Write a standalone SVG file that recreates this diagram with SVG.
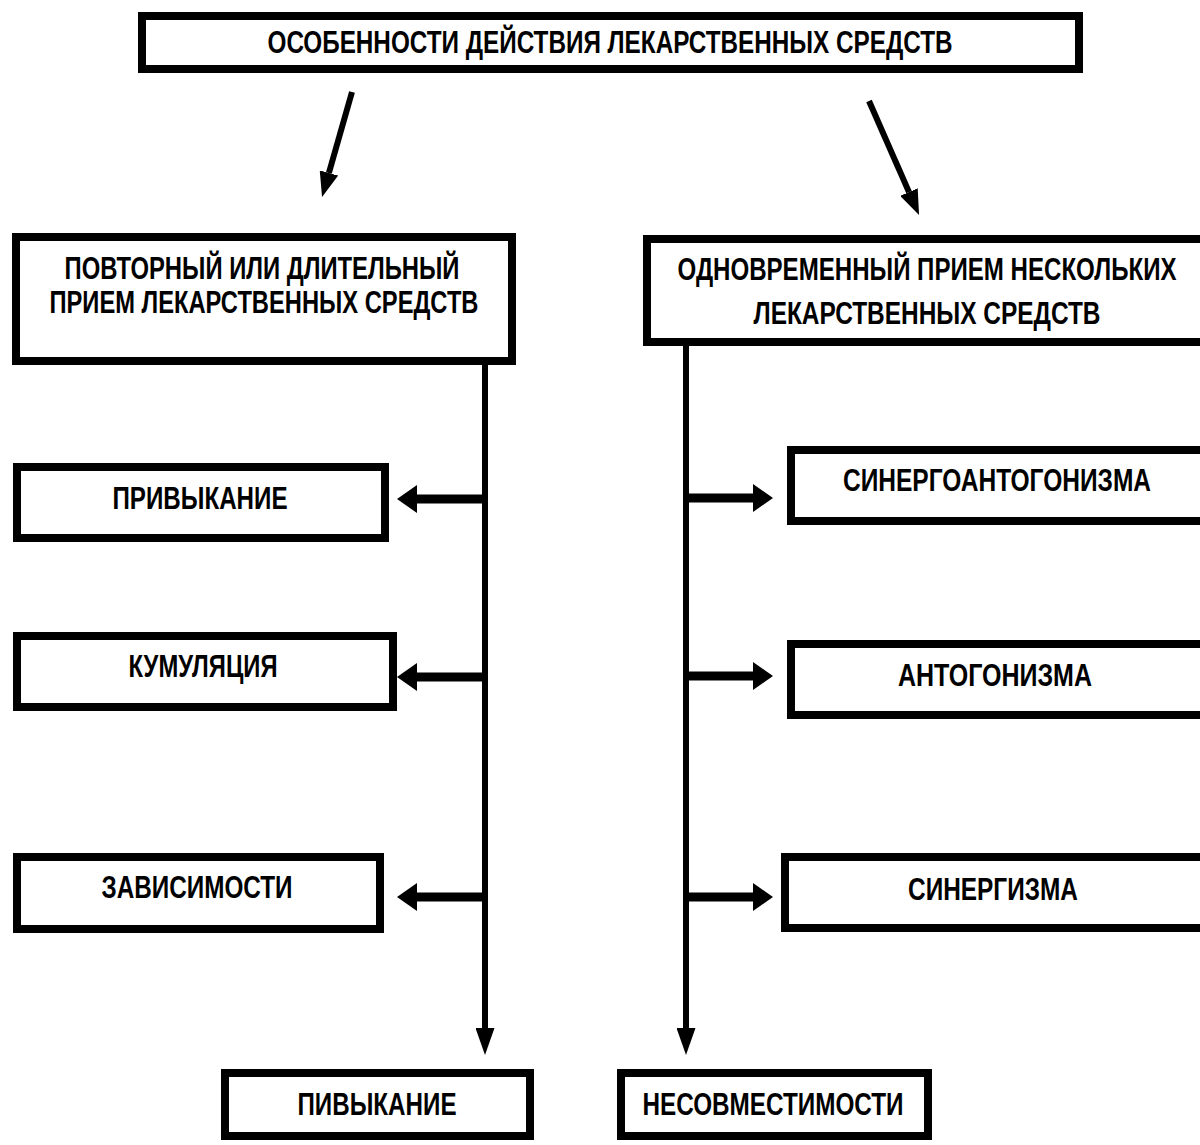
<svg xmlns="http://www.w3.org/2000/svg" width="1200" height="1145" viewBox="0 0 1200 1145">
<style>
.box{fill:#fff;stroke:#000;stroke-width:8}
.t{font-family:"Liberation Sans Narrow","Liberation Sans","Arial Narrow",sans-serif;font-weight:bold;font-size:31px;fill:#000;text-anchor:middle}
.ln{stroke:#000;fill:none}
.h{stroke-width:9}
.v{stroke-width:6}
</style>
<defs>
<marker id="ah" markerUnits="userSpaceOnUse" viewBox="0 0 20 28" markerWidth="20" markerHeight="28" refX="0" refY="14" orient="auto"><path d="M0,0 L20,14 L0,28 z" fill="#000"/></marker>
<marker id="av" markerUnits="userSpaceOnUse" viewBox="0 0 27 19" markerWidth="27" markerHeight="19" refX="0" refY="9.5" orient="auto"><path d="M0,0 L27,9.5 L0,19 z" fill="#000"/></marker>
<marker id="ad" markerUnits="userSpaceOnUse" viewBox="0 0 25 19" markerWidth="25" markerHeight="19" refX="0" refY="9.5" orient="auto"><path d="M0,0 L25,9.5 L0,19 z" fill="#000"/></marker>
</defs>
<rect width="1200" height="1145" fill="#fff"/>
<g id="connectors">
<line class="ln v" x1="352" y1="92" x2="328.9" y2="173" marker-end="url(#ad)"/>
<line class="ln v" x1="869" y1="101" x2="909" y2="192.1" marker-end="url(#ad)"/>
<line class="ln v" x1="485" y1="362" x2="485" y2="1028" marker-end="url(#av)"/>
<line class="ln v" x1="686" y1="343" x2="686" y2="1028" marker-end="url(#av)"/>
<line class="ln h" x1="488" y1="499" x2="417" y2="499" marker-end="url(#ah)"/>
<line class="ln h" x1="488" y1="677" x2="417" y2="677" marker-end="url(#ah)"/>
<line class="ln h" x1="488" y1="897" x2="417" y2="897" marker-end="url(#ah)"/>
<line class="ln h" x1="683" y1="498" x2="753" y2="498" marker-end="url(#ah)"/>
<line class="ln h" x1="683" y1="676" x2="753" y2="676" marker-end="url(#ah)"/>
<line class="ln h" x1="683" y1="897" x2="753" y2="897" marker-end="url(#ah)"/>
</g>
<g id="n-top"><rect class="box" x="142" y="16" width="937" height="53"/><text class="t" x="610" y="53" textLength="685" lengthAdjust="spacingAndGlyphs">ОСОБЕННОСТИ ДЕЙСТВИЯ ЛЕКАРСТВЕННЫХ СРЕДСТВ</text></g>
<g id="n-repeat"><rect class="box" x="16" y="237" width="496" height="124"/><text class="t" x="262" y="279" textLength="395" lengthAdjust="spacingAndGlyphs">ПОВТОРНЫЙ ИЛИ ДЛИТЕЛЬНЫЙ</text><text class="t" x="264" y="313" textLength="429" lengthAdjust="spacingAndGlyphs">ПРИЕМ ЛЕКАРСТВЕННЫХ СРЕДСТВ</text></g>
<g id="n-simult"><rect class="box" x="647" y="239" width="570" height="103"/><text class="t" x="927" y="280" textLength="499" lengthAdjust="spacingAndGlyphs">ОДНОВРЕМЕННЫЙ ПРИЕМ НЕСКОЛЬКИХ</text><text class="t" x="927" y="324" textLength="347" lengthAdjust="spacingAndGlyphs">ЛЕКАРСТВЕННЫХ СРЕДСТВ</text></g>
<g id="n-privykanie"><rect class="box" x="17" y="467" width="368" height="71"/><text class="t" x="200" y="509" textLength="175" lengthAdjust="spacingAndGlyphs">ПРИВЫКАНИЕ</text></g>
<g id="n-kumulyaciya"><rect class="box" x="17" y="636" width="376" height="71"/><text class="t" x="203" y="677" textLength="149" lengthAdjust="spacingAndGlyphs">КУМУЛЯЦИЯ</text></g>
<g id="n-zavisimosti"><rect class="box" x="17" y="857" width="363" height="72"/><text class="t" x="197" y="898" textLength="191" lengthAdjust="spacingAndGlyphs">ЗАВИСИМОСТИ</text></g>
<g id="n-pivykanie"><rect class="box" x="225" y="1073" width="305" height="63"/><text class="t" x="377" y="1115" textLength="159" lengthAdjust="spacingAndGlyphs">ПИВЫКАНИЕ</text></g>
<g id="n-nesovmestimosti"><rect class="box" x="621" y="1073" width="307" height="63"/><text class="t" x="773" y="1115" textLength="261" lengthAdjust="spacingAndGlyphs">НЕСОВМЕСТИМОСТИ</text></g>
<g id="n-sinergoantogonizma"><rect class="box" x="791" y="450" width="420" height="71"/><text class="t" x="997" y="491" textLength="308" lengthAdjust="spacingAndGlyphs">СИНЕРГОАНТОГОНИЗМА</text></g>
<g id="n-antogonizma"><rect class="box" x="791" y="644" width="420" height="71"/><text class="t" x="995" y="686" textLength="194" lengthAdjust="spacingAndGlyphs">АНТОГОНИЗМА</text></g>
<g id="n-sinergizma"><rect class="box" x="785" y="857" width="420" height="71"/><text class="t" x="993" y="900" textLength="170" lengthAdjust="spacingAndGlyphs">СИНЕРГИЗМА</text></g>
</svg>
